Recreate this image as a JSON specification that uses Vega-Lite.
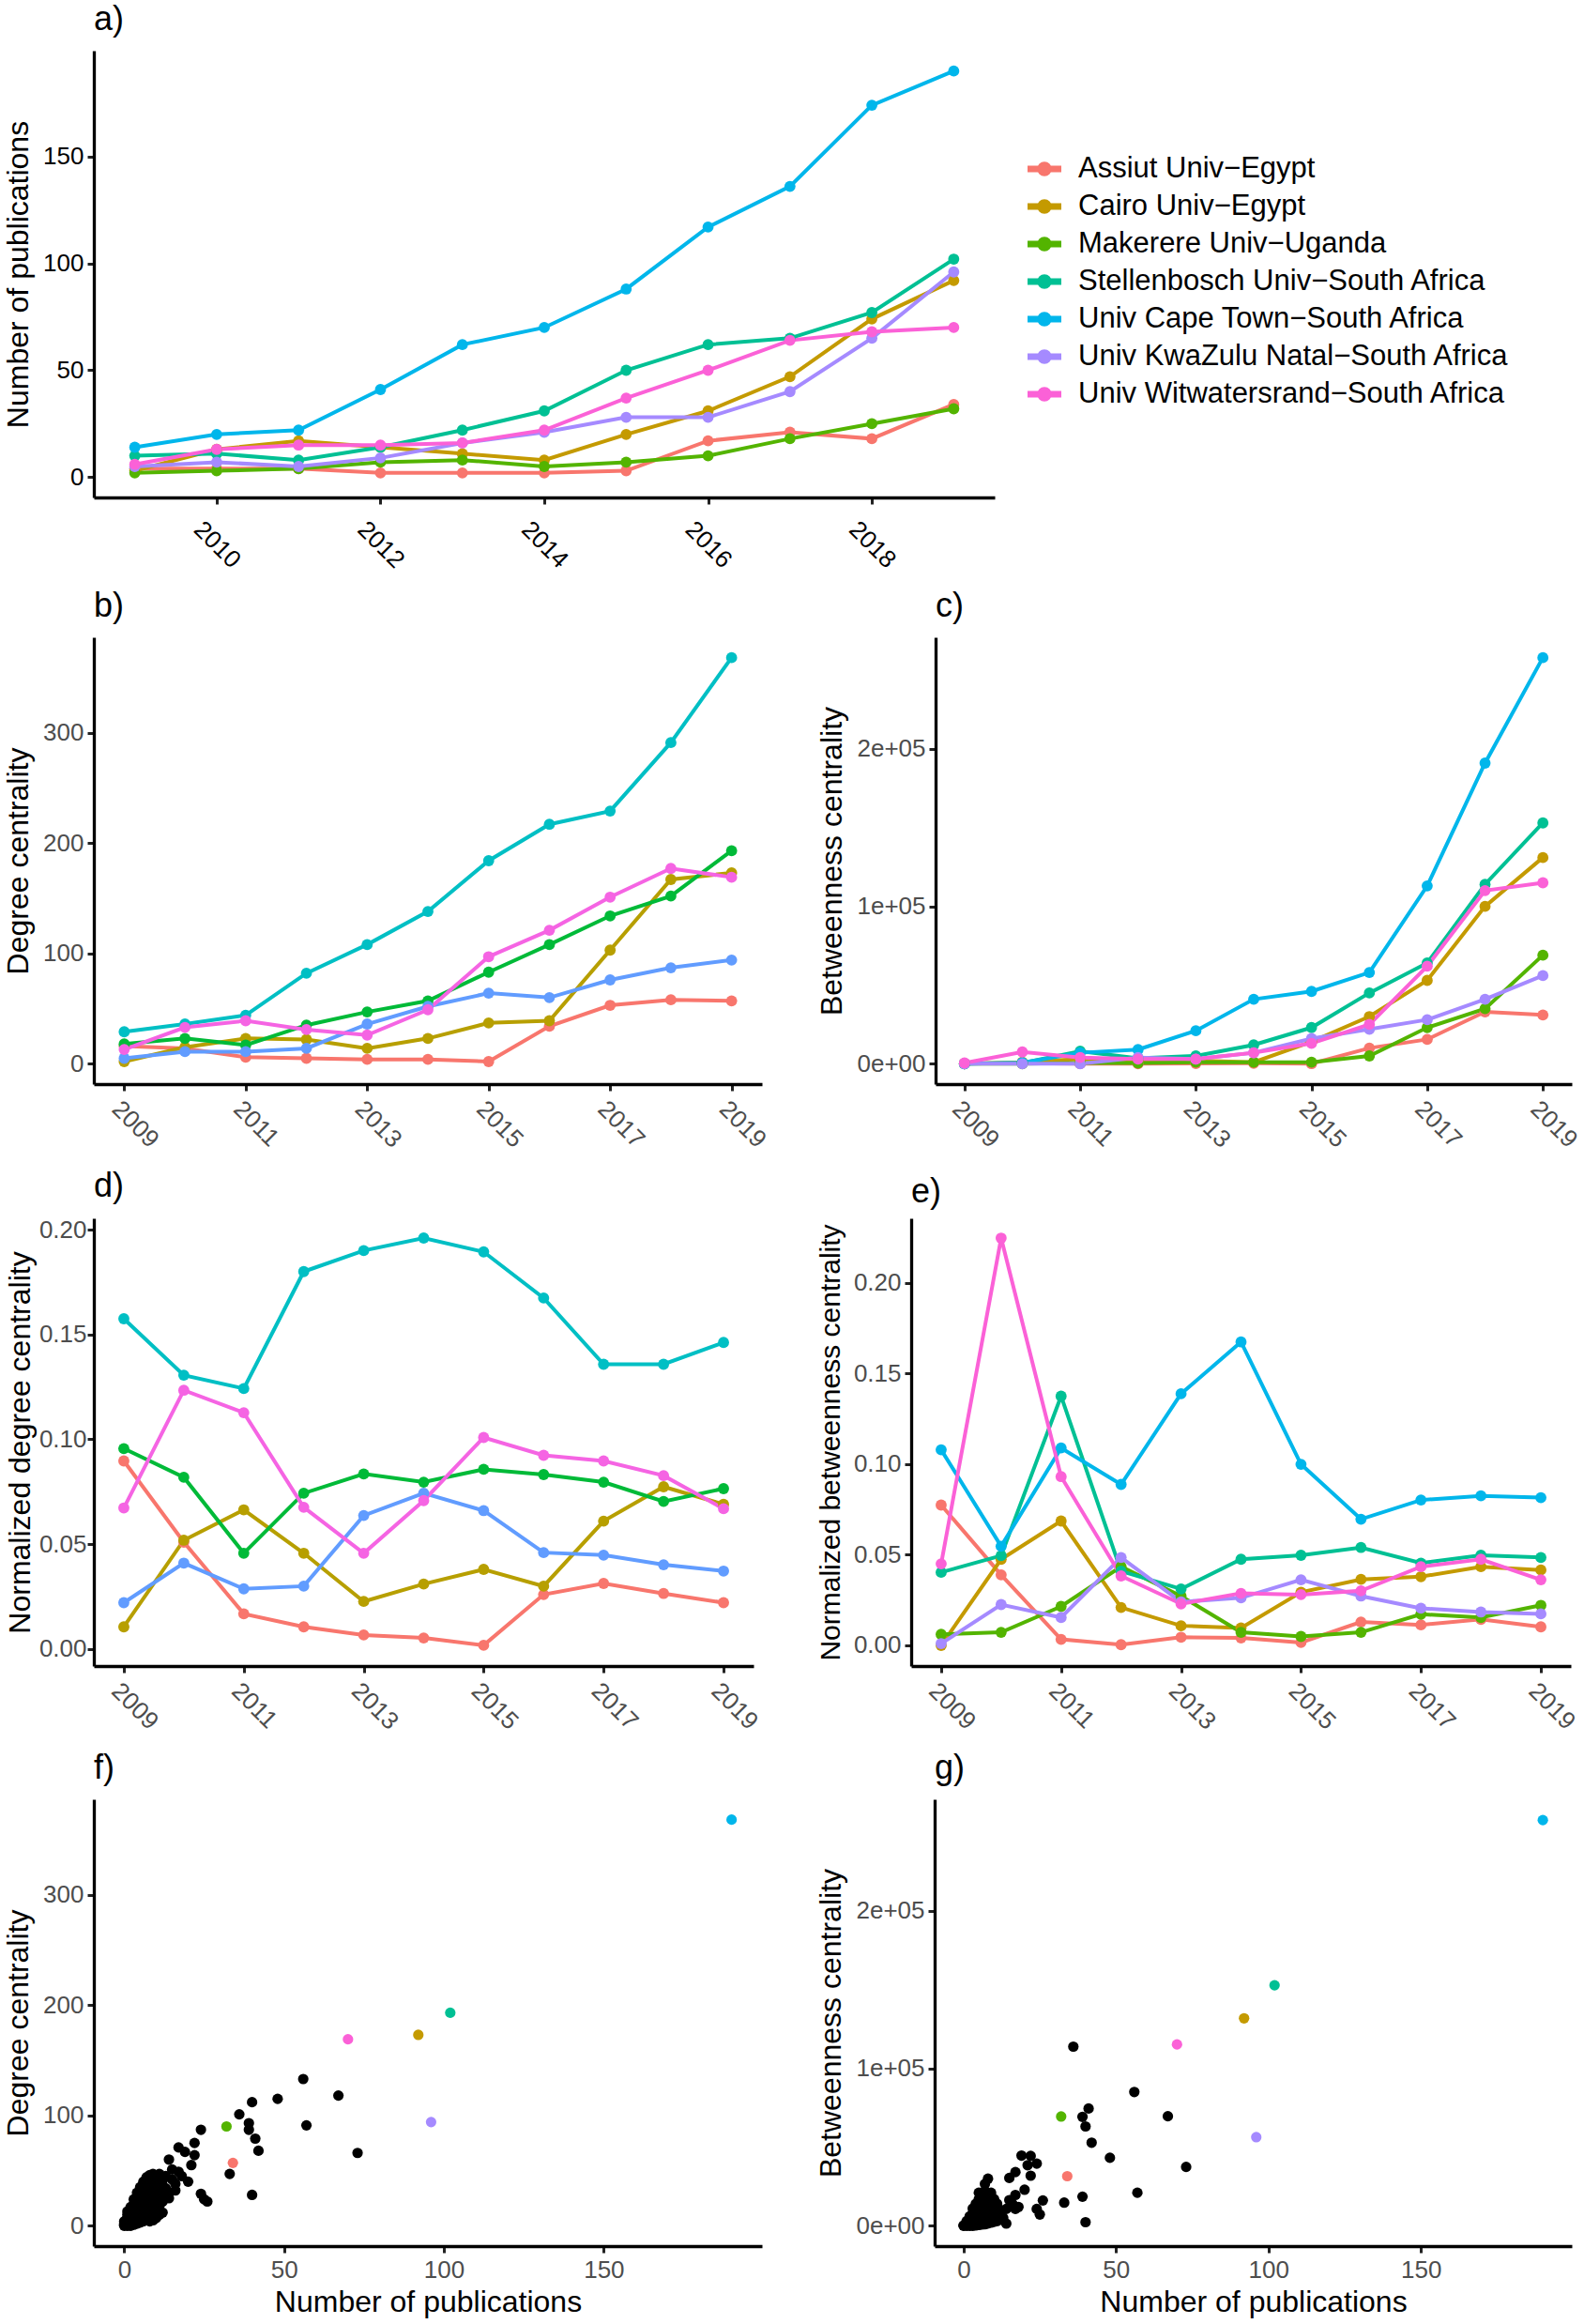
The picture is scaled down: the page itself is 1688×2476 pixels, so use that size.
{
  "$schema": "https://vega.github.io/schema/vega-lite/v6.json",
  "background": "white",
  "padding": {"left": 3, "top": 3, "right": 5, "bottom": 5},
  "spacing": 18,
  "config": {
    "view": {"stroke": null},
    "font": "Liberation Sans",
    "axis": {"grid": false, "domainColor": "black", "domainWidth": 3.3, "tickColor": "#222222", "tickWidth": 3, "tickSize": 7,
      "labelFont": "Liberation Sans", "labelFontSize": 26, "labelColor": "#4D4D4D", "labelPadding": 4,
      "titleFont": "Liberation Sans", "titleFontSize": 32, "titleFontWeight": "normal", "titleColor": "black", "titlePadding": 9,
      "labelFlush": false, "labelOverlap": false},
    "title": {"anchor": "start", "frame": "group", "fontSize": 36, "fontWeight": "normal", "font": "Liberation Sans", "color": "black", "offset": 14},
    "line": {"strokeWidth": 4},
    "point": {"size": 140, "filled": true, "opacity": 1}
  },
  "resolve": {"scale": {"color": "independent"}, "legend": {"color": "independent"}},
  "datasets": {
    "ts": [
      {"u":"Assiut Univ−Egypt","year":2009,"pub":4,"deg":16,"bet":200,"ndeg":0.0897,"nbet":0.0774},
      {"u":"Assiut Univ−Egypt","year":2010,"pub":4,"deg":14,"bet":300,"ndeg":0.051,"nbet":0.0389},
      {"u":"Assiut Univ−Egypt","year":2011,"pub":4,"deg":6,"bet":100,"ndeg":0.0168,"nbet":0.0033},
      {"u":"Assiut Univ−Egypt","year":2012,"pub":2,"deg":5,"bet":0,"ndeg":0.0106,"nbet":0.0004},
      {"u":"Assiut Univ−Egypt","year":2013,"pub":2,"deg":4,"bet":200,"ndeg":0.0067,"nbet":0.0045},
      {"u":"Assiut Univ−Egypt","year":2014,"pub":2,"deg":4,"bet":300,"ndeg":0.0053,"nbet":0.0041},
      {"u":"Assiut Univ−Egypt","year":2015,"pub":3,"deg":2,"bet":100,"ndeg":0.0018,"nbet":0.0016},
      {"u":"Assiut Univ−Egypt","year":2016,"pub":17,"deg":34,"bet":10000,"ndeg":0.026,"nbet":0.0129},
      {"u":"Assiut Univ−Egypt","year":2017,"pub":21,"deg":53,"bet":15500,"ndeg":0.0313,"nbet":0.0113},
      {"u":"Assiut Univ−Egypt","year":2018,"pub":18,"deg":58,"bet":33000,"ndeg":0.0265,"nbet":0.0143},
      {"u":"Assiut Univ−Egypt","year":2019,"pub":34,"deg":57,"bet":31000,"ndeg":0.0221,"nbet":0.0102},
      {"u":"Cairo Univ−Egypt","year":2009,"pub":3,"deg":2,"bet":0,"ndeg":0.0106,"nbet":0.0},
      {"u":"Cairo Univ−Egypt","year":2010,"pub":13,"deg":15,"bet":1000,"ndeg":0.0519,"nbet":0.0475},
      {"u":"Cairo Univ−Egypt","year":2011,"pub":17,"deg":23,"bet":3000,"ndeg":0.0664,"nbet":0.0686},
      {"u":"Cairo Univ−Egypt","year":2012,"pub":14,"deg":22,"bet":2000,"ndeg":0.0457,"nbet":0.0209},
      {"u":"Cairo Univ−Egypt","year":2013,"pub":11,"deg":14,"bet":2000,"ndeg":0.0227,"nbet":0.0108},
      {"u":"Cairo Univ−Egypt","year":2014,"pub":8,"deg":23,"bet":1000,"ndeg":0.031,"nbet":0.0096},
      {"u":"Cairo Univ−Egypt","year":2015,"pub":20,"deg":37,"bet":14000,"ndeg":0.038,"nbet":0.0293},
      {"u":"Cairo Univ−Egypt","year":2016,"pub":31,"deg":39,"bet":30000,"ndeg":0.030,"nbet":0.0364},
      {"u":"Cairo Univ−Egypt","year":2017,"pub":47,"deg":103,"bet":53000,"ndeg":0.061,"nbet":0.0379},
      {"u":"Cairo Univ−Egypt","year":2018,"pub":74,"deg":167,"bet":100000,"ndeg":0.0774,"nbet":0.0434},
      {"u":"Cairo Univ−Egypt","year":2019,"pub":92,"deg":173,"bet":131000,"ndeg":0.069,"nbet":0.0416},
      {"u":"Makerere Univ−Uganda","year":2009,"pub":2,"bet":0,"nbet":0.0061},
      {"u":"Makerere Univ−Uganda","year":2010,"pub":3,"bet":0,"nbet":0.0072},
      {"u":"Makerere Univ−Uganda","year":2011,"pub":4,"bet":500,"nbet":0.0215},
      {"u":"Makerere Univ−Uganda","year":2012,"pub":7,"bet":500,"nbet":0.0434},
      {"u":"Makerere Univ−Uganda","year":2013,"pub":8,"bet":1000,"nbet":0.0272},
      {"u":"Makerere Univ−Uganda","year":2014,"pub":5,"bet":1000,"nbet":0.0072},
      {"u":"Makerere Univ−Uganda","year":2015,"pub":7,"bet":1000,"nbet":0.0049},
      {"u":"Makerere Univ−Uganda","year":2016,"pub":10,"bet":5000,"nbet":0.0072},
      {"u":"Makerere Univ−Uganda","year":2017,"pub":18,"bet":23000,"nbet":0.0172},
      {"u":"Makerere Univ−Uganda","year":2018,"pub":25,"bet":35000,"nbet":0.0154},
      {"u":"Makerere Univ−Uganda","year":2019,"pub":32,"bet":69000,"nbet":0.0221},
      {"u":"Stellenbosch Univ−South Africa","year":2009,"pub":10,"deg":18,"bet":0,"ndeg":0.0956,"nbet":0.0403},
      {"u":"Stellenbosch Univ−South Africa","year":2010,"pub":11,"deg":23,"bet":500,"ndeg":0.0819,"nbet":0.0495},
      {"u":"Stellenbosch Univ−South Africa","year":2011,"pub":8,"deg":17,"bet":8000,"ndeg":0.0457,"nbet":0.1375},
      {"u":"Stellenbosch Univ−South Africa","year":2012,"pub":14,"deg":35,"bet":3500,"ndeg":0.0743,"nbet":0.0409},
      {"u":"Stellenbosch Univ−South Africa","year":2013,"pub":22,"deg":47,"bet":5000,"ndeg":0.0835,"nbet":0.0311},
      {"u":"Stellenbosch Univ−South Africa","year":2014,"pub":31,"deg":57,"bet":12000,"ndeg":0.0796,"nbet":0.0475},
      {"u":"Stellenbosch Univ−South Africa","year":2015,"pub":50,"deg":83,"bet":23000,"ndeg":0.0857,"nbet":0.0497},
      {"u":"Stellenbosch Univ−South Africa","year":2016,"pub":62,"deg":108,"bet":45000,"ndeg":0.0832,"nbet":0.054},
      {"u":"Stellenbosch Univ−South Africa","year":2017,"pub":65,"deg":134,"bet":64000,"ndeg":0.0796,"nbet":0.0454},
      {"u":"Stellenbosch Univ−South Africa","year":2018,"pub":77,"deg":152,"bet":114000,"ndeg":0.0704,"nbet":0.0497},
      {"u":"Stellenbosch Univ−South Africa","year":2019,"pub":102,"deg":193,"bet":153000,"ndeg":0.0765,"nbet":0.0485},
      {"u":"Univ Cape Town−South Africa","year":2009,"pub":14,"deg":29,"bet":0,"ndeg":0.1575,"nbet":0.1079},
      {"u":"Univ Cape Town−South Africa","year":2010,"pub":20,"deg":36,"bet":700,"ndeg":0.1306,"nbet":0.0547},
      {"u":"Univ Cape Town−South Africa","year":2011,"pub":22,"deg":44,"bet":7000,"ndeg":0.1242,"nbet":0.1089},
      {"u":"Univ Cape Town−South Africa","year":2012,"pub":41,"deg":82,"bet":9000,"ndeg":0.180,"nbet":0.0888},
      {"u":"Univ Cape Town−South Africa","year":2013,"pub":62,"deg":108,"bet":21000,"ndeg":0.190,"nbet":0.1388},
      {"u":"Univ Cape Town−South Africa","year":2014,"pub":70,"deg":138,"bet":41000,"ndeg":0.196,"nbet":0.1674},
      {"u":"Univ Cape Town−South Africa","year":2015,"pub":88,"deg":184,"bet":46000,"ndeg":0.1894,"nbet":0.0999},
      {"u":"Univ Cape Town−South Africa","year":2016,"pub":117,"deg":217,"bet":58000,"ndeg":0.1674,"nbet":0.0696},
      {"u":"Univ Cape Town−South Africa","year":2017,"pub":136,"deg":229,"bet":113000,"ndeg":0.1358,"nbet":0.0802},
      {"u":"Univ Cape Town−South Africa","year":2018,"pub":174,"deg":291,"bet":191000,"ndeg":0.1358,"nbet":0.0825},
      {"u":"Univ Cape Town−South Africa","year":2019,"pub":190,"deg":368,"bet":258000,"ndeg":0.1462,"nbet":0.0815},
      {"u":"Univ KwaZulu Natal−South Africa","year":2009,"pub":5,"deg":5,"bet":0,"ndeg":0.0221,"nbet":0.001},
      {"u":"Univ KwaZulu Natal−South Africa","year":2010,"pub":7,"deg":11,"bet":0,"ndeg":0.041,"nbet":0.0225},
      {"u":"Univ KwaZulu Natal−South Africa","year":2011,"pub":5,"deg":11,"bet":0,"ndeg":0.0287,"nbet":0.0154},
      {"u":"Univ KwaZulu Natal−South Africa","year":2012,"pub":9,"deg":14,"bet":4000,"ndeg":0.030,"nbet":0.0485},
      {"u":"Univ KwaZulu Natal−South Africa","year":2013,"pub":16,"deg":36,"bet":3000,"ndeg":0.0637,"nbet":0.024},
      {"u":"Univ KwaZulu Natal−South Africa","year":2014,"pub":21,"deg":52,"bet":7000,"ndeg":0.0743,"nbet":0.0262},
      {"u":"Univ KwaZulu Natal−South Africa","year":2015,"pub":28,"deg":64,"bet":16000,"ndeg":0.066,"nbet":0.0362},
      {"u":"Univ KwaZulu Natal−South Africa","year":2016,"pub":28,"deg":60,"bet":22000,"ndeg":0.046,"nbet":0.0272},
      {"u":"Univ KwaZulu Natal−South Africa","year":2017,"pub":40,"deg":76,"bet":28000,"ndeg":0.0448,"nbet":0.0205},
      {"u":"Univ KwaZulu Natal−South Africa","year":2018,"pub":65,"deg":87,"bet":41000,"ndeg":0.0402,"nbet":0.0184},
      {"u":"Univ KwaZulu Natal−South Africa","year":2019,"pub":96,"deg":94,"bet":56000,"ndeg":0.0372,"nbet":0.0174},
      {"u":"Univ Witwatersrand−South Africa","year":2009,"pub":6,"deg":13,"bet":500,"ndeg":0.0673,"nbet":0.045},
      {"u":"Univ Witwatersrand−South Africa","year":2010,"pub":13,"deg":33,"bet":7500,"ndeg":0.1234,"nbet":0.2247},
      {"u":"Univ Witwatersrand−South Africa","year":2011,"pub":15,"deg":39,"bet":4000,"ndeg":0.1127,"nbet":0.0931},
      {"u":"Univ Witwatersrand−South Africa","year":2012,"pub":15,"deg":31,"bet":3000,"ndeg":0.0676,"nbet":0.0383},
      {"u":"Univ Witwatersrand−South Africa","year":2013,"pub":16,"deg":26,"bet":3000,"ndeg":0.0457,"nbet":0.0229},
      {"u":"Univ Witwatersrand−South Africa","year":2014,"pub":22,"deg":49,"bet":7000,"ndeg":0.0708,"nbet":0.0287},
      {"u":"Univ Witwatersrand−South Africa","year":2015,"pub":37,"deg":97,"bet":13000,"ndeg":0.1009,"nbet":0.028},
      {"u":"Univ Witwatersrand−South Africa","year":2016,"pub":50,"deg":121,"bet":25000,"ndeg":0.0924,"nbet":0.0301},
      {"u":"Univ Witwatersrand−South Africa","year":2017,"pub":64,"deg":151,"bet":62000,"ndeg":0.0897,"nbet":0.0434},
      {"u":"Univ Witwatersrand−South Africa","year":2018,"pub":68,"deg":177,"bet":110000,"ndeg":0.0827,"nbet":0.0475},
      {"u":"Univ Witwatersrand−South Africa","year":2019,"pub":70,"deg":169,"bet":115000,"ndeg":0.0669,"nbet":0.0362}
    ],
    "scf": [
      {"u":"Other","p":56,"d":133},{"u":"Other","p":67,"d":118},{"u":"Other","p":48,"d":115},{"u":"Other","p":40,"d":112},
      {"u":"Other","p":36,"d":101},{"u":"Other","p":39,"d":93},{"u":"Other","p":39,"d":87},{"u":"Other","p":57,"d":91},
      {"u":"Other","p":41,"d":79},{"u":"Other","p":42,"d":68},{"u":"Other","p":73,"d":66},{"u":"Other","p":24,"d":87},
      {"u":"Other","p":22,"d":75},{"u":"Other","p":22,"d":64},{"u":"Other","p":17,"d":71},{"u":"Other","p":19,"d":67},
      {"u":"Other","p":21,"d":55},{"u":"Other","p":14,"d":60},{"u":"Other","p":15,"d":51},{"u":"Other","p":17,"d":49},
      {"u":"Other","p":20,"d":40},{"u":"Other","p":15,"d":42},{"u":"Other","p":16,"d":32},{"u":"Other","p":14,"d":25},
      {"u":"Other","p":24,"d":29},{"u":"Other","p":25,"d":24},{"u":"Other","p":26,"d":22},{"u":"Other","p":33,"d":47},
      {"u":"Other","p":40,"d":28},{"u":"Other","p":18,"d":45},{"u":"Other","p":16,"d":38},{"u":"Other","p":13,"d":45},
      {"u":"Other","p":12,"d":41},{"u":"Other","p":11,"d":47},{"u":"Other","p":9,"d":47},{"u":"Other","p":8,"d":46},
      {"u":"Other","p":7,"d":44},{"u":"Other","p":6,"d":40},{"u":"Other","p":5,"d":35},{"u":"Other","p":4,"d":30},
      {"u":"Other","p":0,"d":0},{"u":"Other","p":0,"d":1},{"u":"Other","p":0,"d":2},{"u":"Other","p":0,"d":4},
      {"u":"Other","p":1,"d":0},{"u":"Other","p":1,"d":1},{"u":"Other","p":1,"d":2},{"u":"Other","p":1,"d":3},
      {"u":"Other","p":1,"d":5},{"u":"Other","p":1,"d":7},{"u":"Other","p":1,"d":10},{"u":"Other","p":1,"d":13},
      {"u":"Other","p":2,"d":0},{"u":"Other","p":2,"d":1},{"u":"Other","p":2,"d":3},{"u":"Other","p":2,"d":5},
      {"u":"Other","p":2,"d":8},{"u":"Other","p":2,"d":11},{"u":"Other","p":2,"d":14},{"u":"Other","p":2,"d":17},
      {"u":"Other","p":3,"d":1},{"u":"Other","p":3,"d":3},{"u":"Other","p":3,"d":6},{"u":"Other","p":3,"d":9},
      {"u":"Other","p":3,"d":12},{"u":"Other","p":3,"d":16},{"u":"Other","p":3,"d":20},{"u":"Other","p":3,"d":24},
      {"u":"Other","p":4,"d":2},{"u":"Other","p":4,"d":5},{"u":"Other","p":4,"d":8},{"u":"Other","p":4,"d":12},
      {"u":"Other","p":4,"d":16},{"u":"Other","p":4,"d":20},{"u":"Other","p":4,"d":25},{"u":"Other","p":5,"d":3},
      {"u":"Other","p":5,"d":7},{"u":"Other","p":5,"d":11},{"u":"Other","p":5,"d":15},{"u":"Other","p":5,"d":20},
      {"u":"Other","p":5,"d":25},{"u":"Other","p":5,"d":30},{"u":"Other","p":6,"d":4},{"u":"Other","p":6,"d":9},
      {"u":"Other","p":6,"d":14},{"u":"Other","p":6,"d":19},{"u":"Other","p":6,"d":24},{"u":"Other","p":6,"d":29},
      {"u":"Other","p":6,"d":34},{"u":"Other","p":7,"d":6},{"u":"Other","p":7,"d":11},{"u":"Other","p":7,"d":16},
      {"u":"Other","p":7,"d":22},{"u":"Other","p":7,"d":28},{"u":"Other","p":7,"d":34},{"u":"Other","p":7,"d":39},
      {"u":"Other","p":8,"d":8},{"u":"Other","p":8,"d":14},{"u":"Other","p":8,"d":20},{"u":"Other","p":8,"d":26},
      {"u":"Other","p":8,"d":32},{"u":"Other","p":8,"d":38},{"u":"Other","p":9,"d":10},{"u":"Other","p":9,"d":17},
      {"u":"Other","p":9,"d":24},{"u":"Other","p":9,"d":31},{"u":"Other","p":9,"d":38},{"u":"Other","p":10,"d":14},
      {"u":"Other","p":10,"d":22},{"u":"Other","p":10,"d":30},{"u":"Other","p":10,"d":38},{"u":"Other","p":10,"d":45},
      {"u":"Other","p":11,"d":18},{"u":"Other","p":11,"d":27},{"u":"Other","p":11,"d":35},{"u":"Other","p":12,"d":22},
      {"u":"Other","p":12,"d":30},{"u":"Other","p":13,"d":26},{"u":"Other","p":13,"d":34},{"u":"Other","p":14,"d":30},
      {"u":"Other","p":12,"d":12},{"u":"Other","p":11,"d":10},{"u":"Other","p":10,"d":7},{"u":"Other","p":9,"d":5},
      {"u":"Other","p":8,"d":4},
      {"u":"Assiut Univ−Egypt","p":34,"d":57},{"u":"Cairo Univ−Egypt","p":92,"d":173},{"u":"Makerere Univ−Uganda","p":32,"d":90},
      {"u":"Stellenbosch Univ−South Africa","p":102,"d":193},{"u":"Univ Cape Town−South Africa","p":190,"d":368},
      {"u":"Univ KwaZulu Natal−South Africa","p":96,"d":94},{"u":"Univ Witwatersrand−South Africa","p":70,"d":169}
    ],
    "scg": [
      {"u":"Other","p":36,"b":113800},{"u":"Other","p":56,"b":85000},{"u":"Other","p":67,"b":69600},{"u":"Other","p":41,"b":74500},
      {"u":"Other","p":39,"b":69200},{"u":"Other","p":40,"b":63100},{"u":"Other","p":42,"b":52800},{"u":"Other","p":48,"b":43200},
      {"u":"Other","p":73,"b":37400},{"u":"Other","p":57,"b":21000},{"u":"Other","p":39,"b":18500},{"u":"Other","p":33,"b":14700},
      {"u":"Other","p":40,"b":2300},{"u":"Other","p":19,"b":44600},{"u":"Other","p":22,"b":44400},{"u":"Other","p":24,"b":39500},
      {"u":"Other","p":21,"b":38500},{"u":"Other","p":22,"b":31800},{"u":"Other","p":17,"b":34100},{"u":"Other","p":15,"b":30400},
      {"u":"Other","p":8,"b":29900},{"u":"Other","p":7,"b":26600},{"u":"Other","p":20,"b":22900},{"u":"Other","p":17,"b":19600},
      {"u":"Other","p":15,"b":16300},{"u":"Other","p":17,"b":10700},{"u":"Other","p":26,"b":16100},{"u":"Other","p":24,"b":10700},
      {"u":"Other","p":25,"b":7200},{"u":"Other","p":14,"b":1400},{"u":"Other","p":14,"b":10700},{"u":"Other","p":16,"b":14000},
      {"u":"Other","p":18,"b":12000},{"u":"Other","p":12,"b":8000},{"u":"Other","p":13,"b":5000},
      {"u":"Other","p":0,"b":0},{"u":"Other","p":0,"b":300},{"u":"Other","p":1,"b":0},{"u":"Other","p":1,"b":500},
      {"u":"Other","p":1,"b":1500},{"u":"Other","p":1,"b":3000},{"u":"Other","p":2,"b":0},{"u":"Other","p":2,"b":800},
      {"u":"Other","p":2,"b":2000},{"u":"Other","p":2,"b":4000},{"u":"Other","p":2,"b":6000},{"u":"Other","p":3,"b":0},
      {"u":"Other","p":3,"b":1000},{"u":"Other","p":3,"b":2500},{"u":"Other","p":3,"b":5000},{"u":"Other","p":3,"b":8000},
      {"u":"Other","p":3,"b":11000},{"u":"Other","p":4,"b":200},{"u":"Other","p":4,"b":1500},{"u":"Other","p":4,"b":3500},
      {"u":"Other","p":4,"b":6500},{"u":"Other","p":4,"b":10000},{"u":"Other","p":4,"b":14000},{"u":"Other","p":5,"b":500},
      {"u":"Other","p":5,"b":2000},{"u":"Other","p":5,"b":5000},{"u":"Other","p":5,"b":8500},{"u":"Other","p":5,"b":12500},
      {"u":"Other","p":5,"b":17000},{"u":"Other","p":5,"b":21000},{"u":"Other","p":6,"b":800},{"u":"Other","p":6,"b":3000},
      {"u":"Other","p":6,"b":6500},{"u":"Other","p":6,"b":10500},{"u":"Other","p":6,"b":15000},{"u":"Other","p":6,"b":20000},
      {"u":"Other","p":7,"b":1000},{"u":"Other","p":7,"b":4000},{"u":"Other","p":7,"b":8000},{"u":"Other","p":7,"b":12000},
      {"u":"Other","p":7,"b":17000},{"u":"Other","p":7,"b":22000},{"u":"Other","p":8,"b":1500},{"u":"Other","p":8,"b":5000},
      {"u":"Other","p":8,"b":9500},{"u":"Other","p":8,"b":14500},{"u":"Other","p":8,"b":19500},{"u":"Other","p":9,"b":2000},
      {"u":"Other","p":9,"b":6000},{"u":"Other","p":9,"b":11000},{"u":"Other","p":9,"b":16000},{"u":"Other","p":9,"b":21000},
      {"u":"Other","p":10,"b":2500},{"u":"Other","p":10,"b":7000},{"u":"Other","p":10,"b":12000},{"u":"Other","p":10,"b":17000},
      {"u":"Other","p":11,"b":3000},{"u":"Other","p":11,"b":9000},{"u":"Other","p":11,"b":14000},{"u":"Other","p":12,"b":4000},
      {"u":"Other","p":12,"b":10000},
      {"u":"Assiut Univ−Egypt","p":34,"b":31500},{"u":"Cairo Univ−Egypt","p":92,"b":131800},{"u":"Makerere Univ−Uganda","p":32,"b":69400},
      {"u":"Stellenbosch Univ−South Africa","p":102,"b":152800},{"u":"Univ Cape Town−South Africa","p":190,"b":257700},
      {"u":"Univ KwaZulu Natal−South Africa","p":96,"b":56300},{"u":"Univ Witwatersrand−South Africa","p":70,"b":115200}
    ]
  },
  "vconcat": [
    {
      "title": "a)",
      "width": 960, "height": 476,
      "data": {"name": "ts"},
      "mark": {"type": "line", "point": {"filled": true, "size": 140}, "strokeWidth": 4},
      "encoding": {
        "x": {"field": "year", "type": "quantitative", "scale": {"domain": [2008.5, 2019.5], "nice": false, "zero": false},
              "axis": {"values": [2010, 2012, 2014, 2016, 2018], "format": "d", "labelAngle": 45, "labelAlign": "center", "labelBaseline": "middle", "labelPadding": 43, "labelColor": "black", "title": null}},
        "y": {"field": "pub", "type": "quantitative", "scale": {"domain": [-9.5, 199.5], "nice": false, "zero": false},
              "axis": {"values": [0, 50, 100, 150], "labelColor": "black", "title": "Number of publications"}},
        "color": {"field": "u", "type": "nominal",
          "scale": {"domain": ["Assiut Univ−Egypt","Cairo Univ−Egypt","Makerere Univ−Uganda","Stellenbosch Univ−South Africa","Univ Cape Town−South Africa","Univ KwaZulu Natal−South Africa","Univ Witwatersrand−South Africa"],
                    "range": ["#F8766D","#C49A00","#53B400","#00C094","#00B6EB","#A58AFF","#FB61D7"]},
          "legend": {"orient": "none", "legendX": 995, "legendY": 108, "title": null, "direction": "vertical",
            "symbolType": "M-1,-0.1H1V0.1H-1Z M0.36,0A0.36,0.36 0 1,1 -0.36,0A0.36,0.36 0 1,1 0.36,0Z",
            "symbolSize": 1024, "symbolStrokeWidth": 0, "labelFontSize": 31, "labelFont": "Liberation Sans", "labelColor": "black",
            "labelLimit": 800, "labelOffset": 18, "rowPadding": 7, "padding": 0,
            "encode": {"symbols": {"update": {
              "fill": {"signal": "['#F8766D','#C49A00','#53B400','#00C094','#00B6EB','#A58AFF','#FB61D7'][indexof(['Assiut Univ−Egypt','Cairo Univ−Egypt','Makerere Univ−Uganda','Stellenbosch Univ−South Africa','Univ Cape Town−South Africa','Univ KwaZulu Natal−South Africa','Univ Witwatersrand−South Africa'], datum.value)]"},
              "stroke": {"value": "transparent"}, "opacity": {"value": 1}}}}}
        }
      }
    },
    {
      "hconcat": [
        {
          "title": "b)",
          "width": 712, "height": 476,
          "data": {"name": "ts"},
          "transform": [{"filter": "datum.u != 'Makerere Univ−Uganda'"}],
          "mark": {"type": "line", "point": {"filled": true, "size": 140}, "strokeWidth": 4},
          "encoding": {
            "x": {"field": "year", "type": "quantitative", "scale": {"domain": [2008.5, 2019.5], "nice": false, "zero": false},
                  "axis": {"values": [2009, 2011, 2013, 2015, 2017, 2019], "format": "d", "labelAngle": 45, "labelPadding": 6, "title": null}},
            "y": {"field": "deg", "type": "quantitative", "scale": {"domain": [-18.4, 386.4], "nice": false, "zero": false},
                  "axis": {"values": [0, 100, 200, 300], "title": "Degree centrality"}},
            "color": {"field": "u", "type": "nominal",
              "scale": {"domain": ["Assiut Univ−Egypt","Cairo Univ−Egypt","Stellenbosch Univ−South Africa","Univ Cape Town−South Africa","Univ KwaZulu Natal−South Africa","Univ Witwatersrand−South Africa"],
                        "range": ["#F8766D","#B79F00","#00BA38","#00BFC4","#619CFF","#F564E3"]},
              "legend": null}
          }
        },
        {
          "title": "c)",
          "width": 678, "height": 476,
          "data": {"name": "ts"},
          "mark": {"type": "line", "point": {"filled": true, "size": 140}, "strokeWidth": 4},
          "encoding": {
            "x": {"field": "year", "type": "quantitative", "scale": {"domain": [2008.5, 2019.5], "nice": false, "zero": false},
                  "axis": {"values": [2009, 2011, 2013, 2015, 2017, 2019], "format": "d", "labelAngle": 45, "labelPadding": 6, "title": null}},
            "y": {"field": "bet", "type": "quantitative", "scale": {"domain": [-12900, 270900], "nice": false, "zero": false},
                  "axis": {"values": [0, 100000, 200000], "labelExpr": "datum.value == 0 ? '0e+00' : (datum.value / 100000) + 'e+05'", "title": "Betweenness centrality"}},
            "color": {"field": "u", "type": "nominal",
              "scale": {"domain": ["Assiut Univ−Egypt","Cairo Univ−Egypt","Makerere Univ−Uganda","Stellenbosch Univ−South Africa","Univ Cape Town−South Africa","Univ KwaZulu Natal−South Africa","Univ Witwatersrand−South Africa"],
                        "range": ["#F8766D","#C49A00","#53B400","#00C094","#00B6EB","#A58AFF","#FB61D7"]},
              "legend": null}
          }
        }
      ],
      "spacing": 185,
      "bounds": "flush",
      "resolve": {"scale": {"color": "independent"}, "legend": {"color": "independent"}}
    },
    {
      "hconcat": [
        {
          "title": "d)",
          "width": 703, "height": 477,
          "data": {"name": "ts"},
          "transform": [{"filter": "datum.u != 'Makerere Univ−Uganda'"}],
          "mark": {"type": "line", "point": {"filled": true, "size": 140}, "strokeWidth": 4},
          "encoding": {
            "x": {"field": "year", "type": "quantitative", "scale": {"domain": [2008.5, 2019.5], "nice": false, "zero": false},
                  "axis": {"values": [2009, 2011, 2013, 2015, 2017, 2019], "format": "d", "labelAngle": 45, "labelPadding": 6, "title": null}},
            "y": {"field": "ndeg", "type": "quantitative", "scale": {"domain": [-0.0081, 0.2054], "nice": false, "zero": false},
                  "axis": {"values": [0, 0.05, 0.1, 0.15, 0.2], "format": ".2f", "labelPadding": 1, "titlePadding": 3, "title": "Normalized degree centrality"}},
            "color": {"field": "u", "type": "nominal",
              "scale": {"domain": ["Assiut Univ−Egypt","Cairo Univ−Egypt","Stellenbosch Univ−South Africa","Univ Cape Town−South Africa","Univ KwaZulu Natal−South Africa","Univ Witwatersrand−South Africa"],
                        "range": ["#F8766D","#B79F00","#00BA38","#00BFC4","#619CFF","#F564E3"]},
              "legend": null}
          }
        },
        {
          "title": {"text": "e)", "offset": 9},
          "width": 703, "height": 477,
          "data": {"name": "ts"},
          "mark": {"type": "line", "point": {"filled": true, "size": 140}, "strokeWidth": 4},
          "encoding": {
            "x": {"field": "year", "type": "quantitative", "scale": {"domain": [2008.5, 2019.5], "nice": false, "zero": false},
                  "axis": {"values": [2009, 2011, 2013, 2015, 2017, 2019], "format": "d", "labelAngle": 45, "labelPadding": 6, "title": null}},
            "y": {"field": "nbet", "type": "quantitative", "scale": {"domain": [-0.0114, 0.2356], "nice": false, "zero": false},
                  "axis": {"values": [0, 0.05, 0.1, 0.15, 0.2], "format": ".2f", "title": "Normalized betweenness centrality", "titleFontSize": 30}},
            "color": {"field": "u", "type": "nominal",
              "scale": {"domain": ["Assiut Univ−Egypt","Cairo Univ−Egypt","Makerere Univ−Uganda","Stellenbosch Univ−South Africa","Univ Cape Town−South Africa","Univ KwaZulu Natal−South Africa","Univ Witwatersrand−South Africa"],
                        "range": ["#F8766D","#C49A00","#53B400","#00C094","#00B6EB","#A58AFF","#FB61D7"]},
              "legend": null}
          }
        }
      ],
      "spacing": 168,
      "bounds": "flush",
      "resolve": {"scale": {"color": "independent"}, "legend": {"color": "independent"}}
    },
    {
      "hconcat": [
        {
          "title": "f)",
          "width": 712, "height": 476,
          "data": {"name": "scf"},
          "mark": {"type": "point", "filled": true, "size": 125, "opacity": 1},
          "encoding": {
            "x": {"field": "p", "type": "quantitative", "scale": {"domain": [-9.5, 199.5], "nice": false, "zero": false},
                  "axis": {"values": [0, 50, 100, 150], "title": "Number of publications", "titlePadding": 6, "labelPadding": 5}},
            "y": {"field": "d", "type": "quantitative", "scale": {"domain": [-18.4, 386.4], "nice": false, "zero": false},
                  "axis": {"values": [0, 100, 200, 300], "title": "Degree centrality"}},
            "color": {"field": "u", "type": "nominal",
              "scale": {"domain": ["Other","Assiut Univ−Egypt","Cairo Univ−Egypt","Makerere Univ−Uganda","Stellenbosch Univ−South Africa","Univ Cape Town−South Africa","Univ KwaZulu Natal−South Africa","Univ Witwatersrand−South Africa"],
                        "range": ["#000000","#F8766D","#C49A00","#53B400","#00C094","#00B6EB","#A58AFF","#FB61D7"]},
              "legend": null}
          }
        },
        {
          "title": "g)",
          "width": 679, "height": 476,
          "data": {"name": "scg"},
          "mark": {"type": "point", "filled": true, "size": 125, "opacity": 1},
          "encoding": {
            "x": {"field": "p", "type": "quantitative", "scale": {"domain": [-9.5, 199.5], "nice": false, "zero": false},
                  "axis": {"values": [0, 50, 100, 150], "title": "Number of publications", "titlePadding": 6, "labelPadding": 5}},
            "y": {"field": "b", "type": "quantitative", "scale": {"domain": [-12900, 270900], "nice": false, "zero": false},
                  "axis": {"values": [0, 100000, 200000], "labelExpr": "datum.value == 0 ? '0e+00' : (datum.value / 100000) + 'e+05'", "title": "Betweenness centrality"}},
            "color": {"field": "u", "type": "nominal",
              "scale": {"domain": ["Other","Assiut Univ−Egypt","Cairo Univ−Egypt","Makerere Univ−Uganda","Stellenbosch Univ−South Africa","Univ Cape Town−South Africa","Univ KwaZulu Natal−South Africa","Univ Witwatersrand−South Africa"],
                        "range": ["#000000","#F8766D","#C49A00","#53B400","#00C094","#00B6EB","#A58AFF","#FB61D7"]},
              "legend": null}
          }
        }
      ],
      "spacing": 184,
      "bounds": "flush",
      "resolve": {"scale": {"color": "independent"}, "legend": {"color": "independent"}}
    }
  ]
}
